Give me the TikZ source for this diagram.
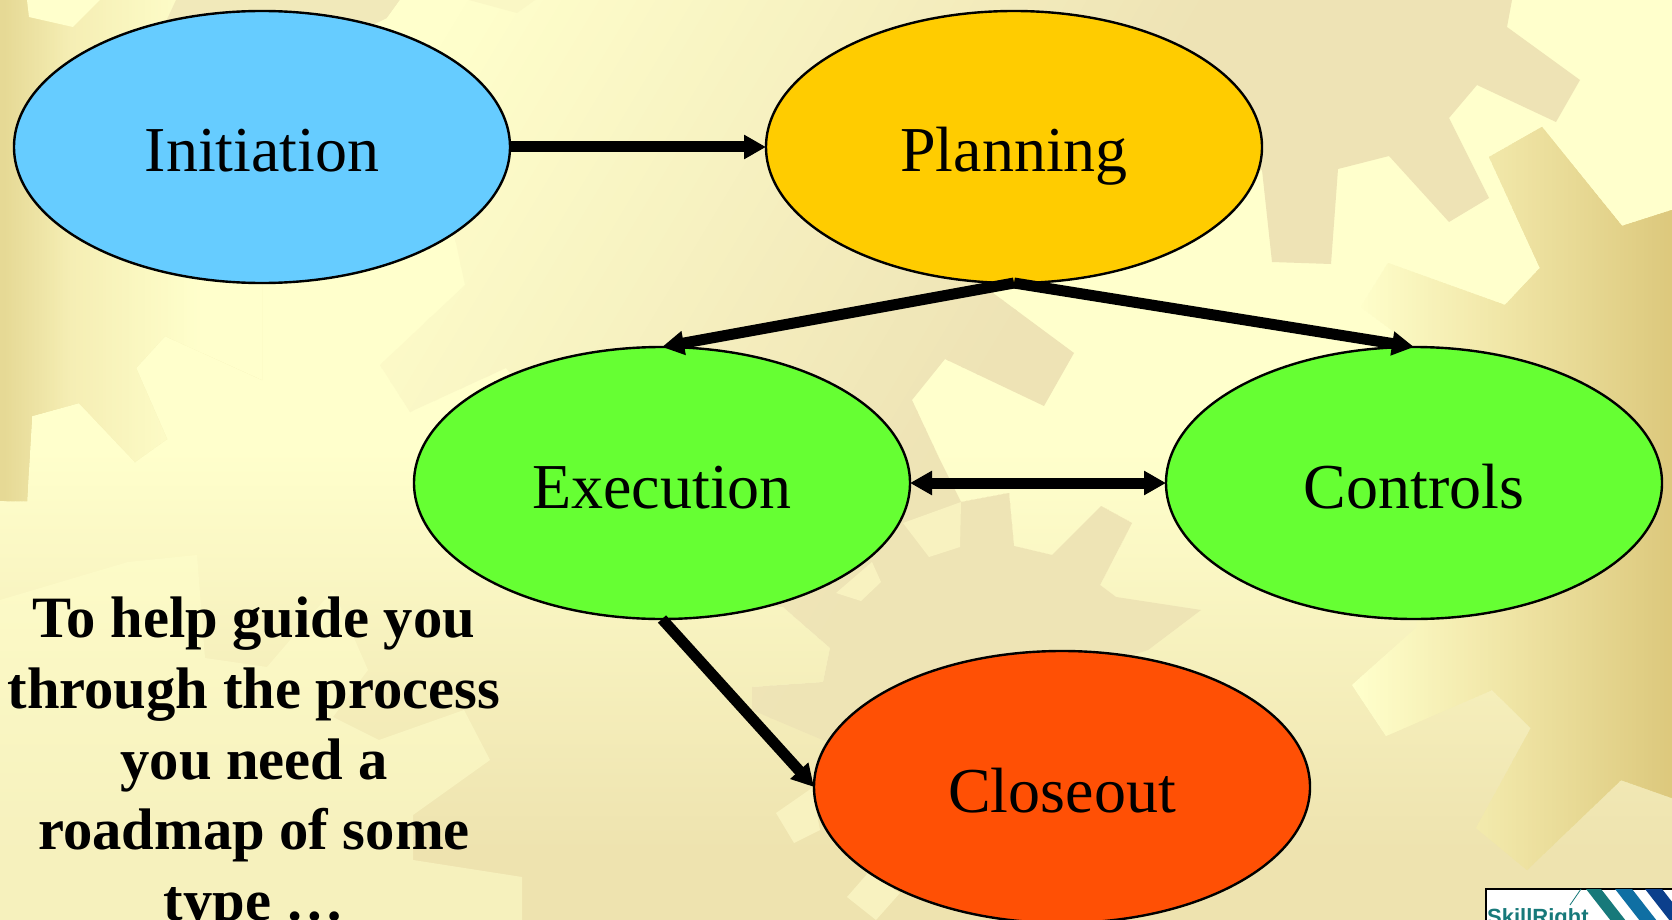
\documentclass[tikz,border=0pt]{standalone}
\usepackage{fontspec}
\setmainfont{Liberation Serif}
\newfontfamily\logofont{Liberation Sans}
\usetikzlibrary{shapes.geometric,arrows.meta}
\definecolor{paper}{HTML}{FFFFCC}
\definecolor{tanlow}{HTML}{EEE3AF}
\definecolor{tanhigh}{HTML}{EEE3B5}
\definecolor{goldedge}{HTML}{DCC87C}
\definecolor{goldmid}{HTML}{EFE4A4}
\definecolor{goldleft}{HTML}{E6D995}
\definecolor{goldpale}{HTML}{F5EEB4}
\definecolor{paleface}{HTML}{F8F2C0}
\definecolor{logoteal}{HTML}{17797A}
\definecolor{logoblue}{HTML}{0F6FA3}
\definecolor{logonavy}{HTML}{0B3F8C}
\newcommand{\gearstrips}[5]{% from, to, start, end, slant
  \foreach \stripn in {0,...,40} {
    \pgfmathsetmacro{\stripx}{#3+(#4-#3)*(\stripn/40)}
    \pgfmathsetmacro{\stripw}{\stripn==40 ? 1500 : (#4-#3)/40+3}
    \pgfmathsetmacro{\mixval}{2.5*\stripn}
    \fill[#2!\mixval!#1] (\stripx,0) -- ({\stripx-#5*920},920) -- ({\stripx-#5*920+\stripw},920)
      -- ({\stripx+\stripw},0) -- cycle;
  }
}
\tikzset{
  phase/.style={draw=black, line width=2.4pt, ellipse, inner sep=0pt, outer sep=0pt,
    minimum width=496pt, minimum height=272pt, text height=50pt, text depth=0pt,
    font=\fontsize{64}{70}\selectfont},
  flow/.style={line width=11pt, -{Triangle[length=22pt,width=23pt]}},
  flowboth/.style={line width=11pt, {Triangle[length=22pt,width=23pt]}-{Triangle[length=22pt,width=23pt]}}
}
\begin{document}
\begin{tikzpicture}[x=1pt,y=-1pt]
  \useasboundingbox (0,0) rectangle (1672,920);
  \begin{scope}
    \clip (0,0) rectangle (1672,920);
    \fill[paper] (0,0) rectangle (1672,451);
    \fill[top color=paper, bottom color=tanlow] (0,450) rectangle (1672,851);
    \fill[tanlow] (0,850) rectangle (1672,920);
    \begin{scope}
      \clip (0,0) -- (262,0) -- (262,380) -- (165,336) -- (136,368) -- (167,439) -- (135,462)
        -- (79,403) -- (32,416) -- (27,501) -- (0,501) -- cycle;
      \fill[goldleft] (0,0) rectangle (5,501);
      \gearstrips{goldleft}{goldpale}{4}{70}{0}
      \gearstrips{goldpale}{paper}{70}{200}{0}
    \end{scope}
    \fill[paper] (27,0) -- (29,17) -- (73,27) -- (100,0) -- cycle;
    \fill[paper, fill opacity=.5] (0,600) -- (128,562) -- (197,555) -- (205,658)
      -- (267,667) -- (333,590) -- (368,670) -- (333,717) -- (379,740) -- (464,710) -- (490,760)
      -- (413,815) -- (413,860) -- (522,877) -- (522,920) -- (0,920) -- cycle;
    \fill[tanhigh!80!paper] (176,0) -- (162,30) -- (300,60) -- (387,18) -- (400,0) -- cycle;
    \begin{scope}
      \clip (400,0) -- (1512,0) -- (1507,27) -- (1580,80) -- (1556,122) -- (1477,85) -- (1449,118)
        -- (1489,198) -- (1449,222) -- (1389,156) -- (1338,169) -- (1331,264) -- (1272,262)
        -- (1262,170) -- (1150,200) -- (993,293) -- (1074,353) -- (1044,406) -- (945,359)
        -- (912,400) -- (940,460) -- (961,502) -- (1009,493) -- (1014,546) -- (1052,555)
        -- (1101,506) -- (1132,523) -- (1100,585) -- (1116,597) -- (1201,610) -- (1148,650)
        -- (1000,700) -- (870,760) -- (752,710) -- (752,687) -- (823,682) -- (830,648)
        -- (783,607) -- (700,600) -- (506,368) -- (410,412) -- (380,365) -- (465,285)
        -- (456,243) -- (387,18) -- cycle;
      \fill[paper] (380,0) rectangle (1000,700);
      \gearstrips{paper}{tanhigh}{450}{1200}{.6}
      \foreach \fadey in {430,440,...,560} {
        \fill[paleface, fill opacity=.07] (600,\fadey) rectangle (1300,780);
      }
    \end{scope}
    \fill[paper!70!tanhigh] (469,0) -- (517,13) -- (535,0) -- cycle;
    \fill[paleface] (961,502) -- (960,547) -- (929,557) -- (903,523) -- cycle;
    \fill[paleface] (881,582) -- (861,601) -- (836,593) -- (872,562) -- cycle;
    \fill[paleface] (776,813) -- (812,788) -- (820,830) -- (794,843) -- cycle;
    \fill[paleface] (847,897) -- (868,873) -- (900,893) -- (876,920) -- cycle;
    \begin{scope}
      \clip (1542,127) -- (1622,226) -- (1672,210) -- (1672,798) -- (1621,780) -- (1527,870)
        -- (1476,828) -- (1531,728) -- (1492,690) -- (1386,736) -- (1352,685) -- (1417,627)
        -- (1414,347) -- (1361,307) -- (1388,263) -- (1505,305) -- (1540,268) -- (1489,157) -- cycle;
      \gearstrips{paper}{goldmid}{1352}{1512}{0}
      \gearstrips{goldmid}{goldedge}{1512}{1672}{0}
    \end{scope}
  \end{scope}

  \node[phase, fill={rgb,255:red,102;green,204;blue,255}] (initiation) at (262,147) {Initiation};
  \node[phase, fill={rgb,255:red,255;green,204;blue,0}] (planning) at (1014,147) {Planning};
  \node[phase, fill={rgb,255:red,102;green,255;blue,51}] (execution) at (662,483) {Execution};
  \node[phase, fill={rgb,255:red,102;green,255;blue,51}] (controls) at (1414,483) {Controls};
  \node[phase, fill={rgb,255:red,255;green,80;blue,5}] (closeout) at (1062,787) {Closeout};

  \begin{scope}
    \draw[flow] (initiation) -- (planning);
    \draw[flow] (planning.south) -- (execution.north);
    \draw[flow] (planning.south) -- (controls.north);
    \draw[flowboth] (execution) -- (controls);
    \draw[flow] (execution.south) -- (closeout.west);
  \end{scope}

  \node[anchor=north, align=center, inner sep=0pt, font=\fontsize{58.6}{70.6}\selectfont\bfseries]
    (note) at (254,597) {To help guide you\\through the process\\you need a\\roadmap of some\\type \dots};

  \begin{scope}
    \clip (1485,888) rectangle (1672,920);
    \node[draw=black, line width=2pt, fill=white, anchor=north west, inner sep=0pt, minimum width=200pt, minimum height=60pt]
      (logo) at (1485,888) {};
    \fill[logoteal] (1586,889) -- (1601,889) -- (1626,921) -- (1611,921) -- cycle;
    \fill[logoblue] (1615,889) -- (1632,889) -- (1657,921) -- (1640,921) -- cycle;
    \fill[logonavy] (1645,889) -- (1662,889) -- (1687,921) -- (1670,921) -- cycle;
    \draw[logoteal, line width=.8pt] (1581,889) -- (1570,905);
    \node[anchor=base west, inner sep=0pt, text=logoteal, font=\logofont\bfseries\fontsize{22}{24}\selectfont]
      (logoname) at (1487,924) {SkillRight};
  \end{scope}
\end{tikzpicture}
\end{document}
